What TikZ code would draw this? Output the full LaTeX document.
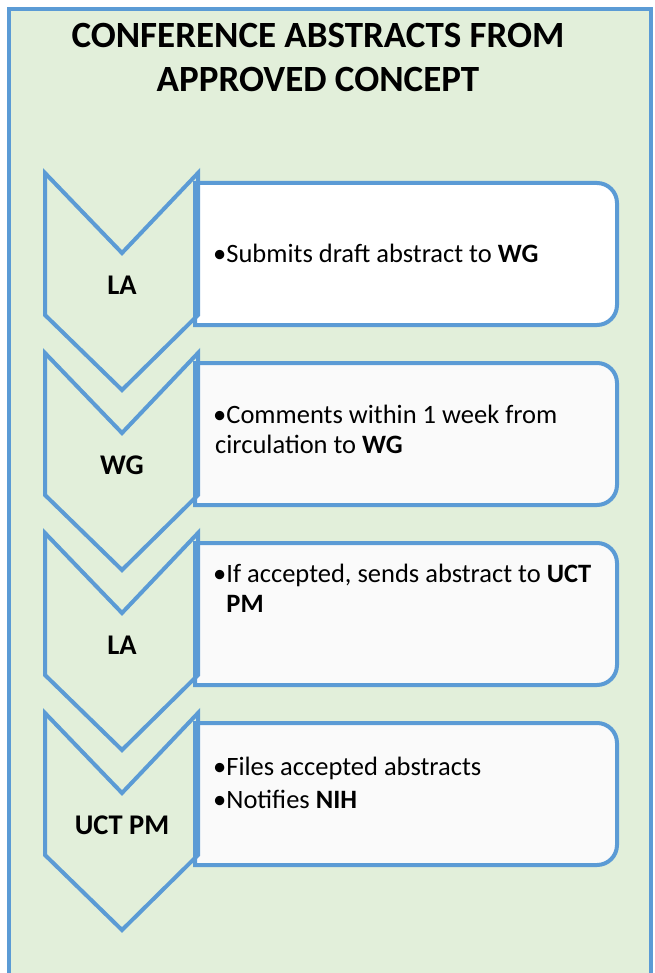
\documentclass[tikz,border=0pt]{standalone}
\usepackage{fontspec}
\setmainfont{Carlito}
\usepackage{xcolor}
\usetikzlibrary{positioning}

\definecolor{stepblue}{HTML}{5B9BD5}
\definecolor{sheetgreen}{HTML}{E2EFDA}

\begin{document}
\begin{tikzpicture}[x=1pt,y=-1pt,
  frame/.style={draw=stepblue,line width=4pt,fill=sheetgreen},
  chevron/.style={draw=stepblue,line width=4pt,line join=miter},
  boxline/.style={draw=stepblue,line width=4pt},
  boxtext/.style={anchor=base west,inner sep=0pt,align=left,
    font=\fontsize{26.5}{30}\selectfont},
  who/.style={font=\fontsize{28.5}{30}\selectfont\bfseries},
  title/.style={align=center,font=\fontsize{37}{44}\selectfont\bfseries}]
  \useasboundingbox (0,0) rectangle (654,973);
  \clip (0,0) rectangle (654,973);
  \fill[white] (0,0) rectangle (654,973);
  \draw[frame] (9,9) rectangle (651,1000);
  \node[title] (head) at (318,57) {CONFERENCE ABSTRACTS FROM\\APPROVED CONCEPT};
  % one chevron and one task box per step, \b = baseline of last text line
  \foreach \y/\b/\who/\shade/\txt [count=\i] in {
    173/263/LA/white/{\textbullet Submits draft abstract to \textbf{WG}},
    353/453/WG/black!2/{\textbullet Comments within 1 week from\\\hspace*{2pt}circulation to \textbf{WG}},
    533/612/LA/black!2/{\textbullet If accepted, sends abstract to \textbf{UCT}\\\phantom{\textbullet}\textbf{PM}},
    713/808/UCT PM/black!2/{\textbullet Files accepted abstracts\\[3pt]\textbullet Notifies \textbf{NIH}}} {
    \draw[boxline,fill=\shade] (195,\y+10) [rounded corners=20pt] -- (617,\y+10) -- (617,\y+152)
      [sharp corners] -- (195,\y+152) -- cycle;
    \node[boxtext] (task\i) at (213,\b) {\txt};
    \draw[chevron] (45,\y) -- (122,\y+80) -- (198,\y) -- (198,\y+142) -- (122,\y+217)
      -- (45,\y+142) -- cycle;
    \node[who] (role\i) at (122,\y+112) {\who};
  }
\end{tikzpicture}
\end{document}
